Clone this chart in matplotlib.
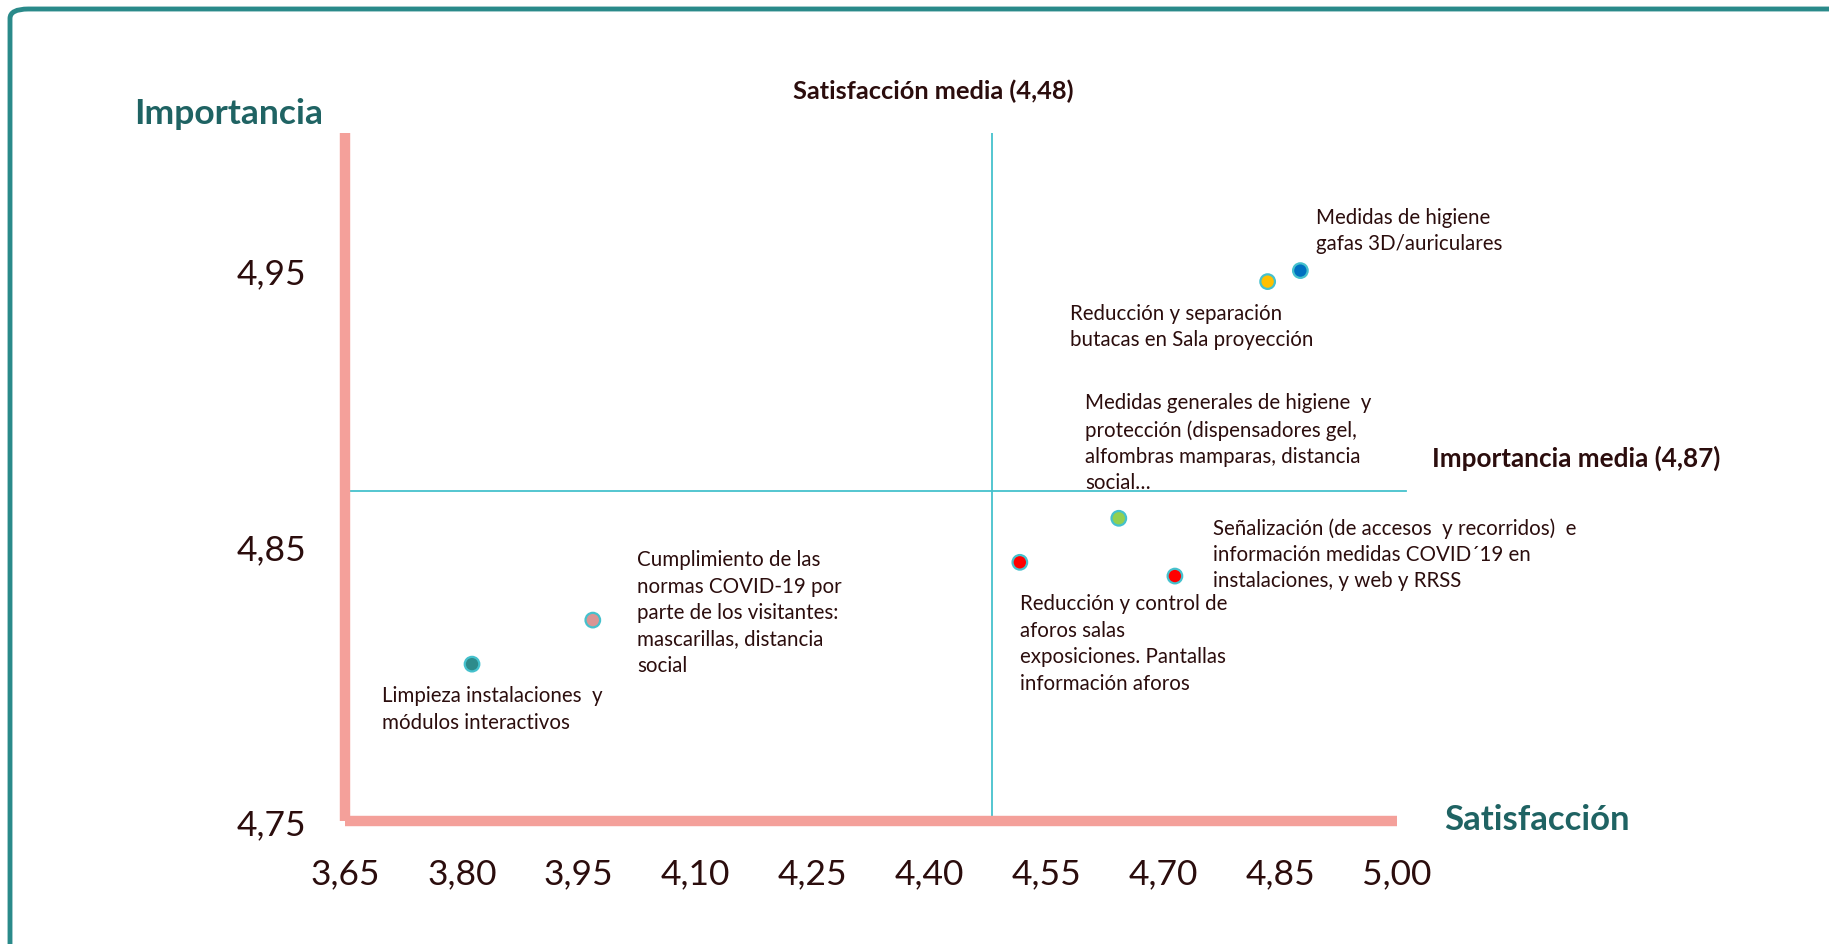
import matplotlib.pyplot as plt
from matplotlib.patches import FancyBboxPatch

# valores medios de cada medida COVID
satisfaccion = [4.876, 4.834, 4.643, 4.516, 4.715, 3.968, 3.813]
importancia = [4.950, 4.946, 4.860, 4.844, 4.839, 4.823, 4.807]
colores = ['#0070c0', '#ffc000', '#92d050', '#ff0000', '#ff0000', '#d99594', '#2e8b8b']
etiquetas = [
    'Medidas de higiene\ngafas 3D/auriculares',
    'Reducción y separación\nbutacas en Sala proyección',
    'Medidas generales de higiene  y\nprotección (dispensadores gel,\nalfombras mamparas, distancia\nsocial…',
    'Reducción y control de\naforos salas\nexposiciones. Pantallas\ninformación aforos',
    'Señalización (de accesos  y recorridos)  e\ninformación medidas COVID´19 en\ninstalaciones, y web y RRSS',
    'Cumplimiento de las\nnormas COVID-19 por\nparte de los visitantes:\nmascarillas, distancia\nsocial',
    'Limpieza instalaciones  y\nmódulos interactivos',
]
sat_media = 4.48
imp_media = 4.87
xticks = [3.65, 3.80, 3.95, 4.10, 4.25, 4.40, 4.55, 4.70, 4.85, 5.00]
yticks = [4.75, 4.85, 4.95]

# desplazamiento de cada etiqueta respecto a su punto (pixeles)
desplaz = [(16, 64), (-198, -21), (-34, 126), (0, -31), (38, 59), (44, 71), (-90, -21)]

W, H = 1829, 945
plt.rcParams['font.family'] = ['Lato', 'DejaVu Sans']
oscuro = '#2b0d0d'
verde = '#1f6363'
rosa = '#f4a09a'
cian = '#45c1cd'

fig = plt.figure(figsize=(W / 100, H / 100), dpi=100)

def px(x, y):
    return x / W, 1 - y / H

# marco redondeado
marco = FancyBboxPatch(px(10, 1100), 2000 / W, 1090 / H, boxstyle='round,pad=0,rounding_size=0.01',
                       transform=fig.transFigure, fill=False, edgecolor='#2a8a8a', linewidth=3.5)
fig.patches.append(marco)

x0, x1 = px(345, 822), px(1397, 134)
ax = fig.add_axes([x0[0], x0[1], x1[0] - x0[0], x1[1] - x0[1]])
ax.set_xlim(3.65, 5.00)
ax.set_ylim(4.75, 5.00)

for s in ['top', 'right']:
    ax.spines[s].set_visible(False)
for s in ['left', 'bottom']:
    ax.spines[s].set_color(rosa)
    ax.spines[s].set_linewidth(7.5)
    ax.spines[s].set_capstyle('butt')

ax.set_xticks(xticks)
ax.set_yticks(yticks)
ax.set_xticklabels([('%.2f' % v).replace('.', ',') for v in xticks])
ax.set_yticklabels([('%.2f' % v).replace('.', ',') for v in yticks])
ax.tick_params(axis='both', length=0, labelsize=25.5, colors=oscuro)
ax.tick_params(axis='x', pad=26)
ax.tick_params(axis='y', pad=28)

# lineas de las medias
ax.plot([sat_media, sat_media], [4.75, 5.00], color=cian, linewidth=1.3, zorder=1)
ax.plot([3.655, 5.012], [imp_media, imp_media], color=cian, linewidth=1.3, zorder=1, clip_on=False)

ax.scatter(satisfaccion, importancia, s=110, c=colores, edgecolors=cian, linewidths=1.6, zorder=3)

for i in range(len(etiquetas)):
    ax.annotate(etiquetas[i], (satisfaccion[i], importancia[i]), xytext=desplaz[i],
                textcoords='offset pixels', ha='left', va='top', fontsize=14.8,
                color=oscuro, linespacing=1.4)

fig.text(*px(134, 114), 'Importancia', fontsize=25.5, fontweight='bold', color=verde, va='center')
fig.text(*px(1444, 820), 'Satisfacción', fontsize=25, fontweight='bold', color=verde, va='center')
fig.text(*px(933, 91), 'Satisfacción media (4,48)', fontsize=18.3, fontweight='bold',
         color=oscuro, ha='center', va='center')
fig.text(*px(1432, 458), 'Importancia media (4,87)', fontsize=18.8, fontweight='bold',
         color=oscuro, va='center')

plt.savefig('out.png', dpi=100)
